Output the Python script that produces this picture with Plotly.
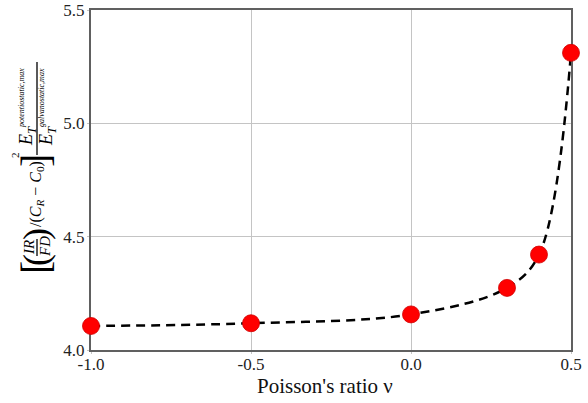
import plotly.graph_objects as go

# Data
nu = [-1.0, -0.5, 0.0, 0.3, 0.4, 0.5]
ratio = [4.106, 4.118, 4.157, 4.274, 4.421, 5.311]
x_ticks = [-1.0, -0.5, 0.0, 0.5]
x_ticklabels = ["-1.0", "-0.5", "0.0", "0.5"]
y_ticks = [4.0, 4.5, 5.0, 5.5]
y_ticklabels = ["4.0", "4.5", "5.0", "5.5"]
x_title = "Poisson's ratio ν"

W, H = 588, 403
ML, MR, MT, MB = 91, 17, 10, 53
PW, PH = W - ML - MR, H - MT - MB
FONT = "Liberation Serif, Times New Roman, serif"

fig = go.Figure()
fig.add_trace(go.Scatter(x=nu, y=ratio, mode="lines", line_shape="spline",
                         line=dict(color="black", width=2.5, dash="9px,6px"),
                         hoverinfo="skip", cliponaxis=False))
fig.add_trace(go.Scatter(x=nu, y=ratio, mode="markers", cliponaxis=False,
                         marker=dict(color="#ff0000", size=17,
                                     line=dict(color="#d00000", width=0.8))))

def px(X):
    return (X - ML) / PW

def py(Y):
    return (H - MB - Y) / PH

anns = []
def lab(X, Y, text, size, angle=-90, color="black"):
    anns.append(dict(x=px(X), y=py(Y), xref="paper", yref="paper", text=text,
                     showarrow=False, textangle=angle, xanchor="center",
                     yanchor="middle", font=dict(family=FONT, size=size, color=color)))

shapes = []
def bar(X, Y0, Y1):
    shapes.append(dict(type="line", xref="paper", yref="paper",
                       x0=px(X), x1=px(X), y0=py(Y0), y1=py(Y1),
                       line=dict(color="black", width=1.3)))

# y-axis label built from pieces:  [ (IR/FD) /(C_R - C_0) ]^2  E_T^pot,max / E_T^galv,max
lab(35, 268, "[", 40)
lab(36, 260, "(", 36)
lab(29, 247, "<i>IR</i>", 15)
lab(45, 247, "<i>FD</i>", 15)
bar(37, 239, 256)
lab(36, 234, ")", 36)
lab(36, 194, "/(<i>C</i><sub><i>R</i></sub> − <i>C</i><sub>0</sub>)", 16)
lab(35, 161, "]", 40)
lab(15, 155, "2", 11)
lab(27, 107, "<i>E</i><sub><i>T</i></sub><sup><i><span style='font-size:8px'>potentiostatic,max</span></i></sup>", 18)
lab(47, 107, "<i>E</i><sub><i>T</i></sub><sup><i><span style='font-size:8px'>galvanostatic,max</span></i></sup>", 18)
bar(37, 62, 155)

# x-axis title
lab(325, 386, x_title, 21, angle=0, color="#111")

fig.update_layout(
    width=W, height=H,
    margin=dict(l=ML, r=MR, t=MT, b=MB, autoexpand=False),
    paper_bgcolor="white", plot_bgcolor="white",
    showlegend=False,
    font=dict(family=FONT, size=17, color="#222"),
    annotations=anns, shapes=shapes,
    xaxis=dict(range=[-1.0, 0.5], tickvals=x_ticks, ticktext=x_ticklabels,
               showline=True, mirror=True, linecolor="#606060", linewidth=2,
               showgrid=True, gridcolor="#c4c4c4", gridwidth=1, zeroline=False,
               ticks="outside", ticklen=2, tickcolor="#c4c4c4",
               ticklabelstandoff=-4,
               layer="below traces", automargin=False),
    yaxis=dict(range=[4.0, 5.5], tickvals=y_ticks, ticktext=y_ticklabels,
               showline=True, mirror=True, linecolor="#606060", linewidth=2,
               showgrid=True, gridcolor="#c4c4c4", gridwidth=1, zeroline=False,
               ticks="outside", ticklen=2, tickcolor="#c4c4c4",
               ticklabelstandoff=-1,
               layer="below traces", automargin=False),
)

fig.write_html("out.html", config={"displayModeBar": False},
               post_script="document.body.style.margin='0';")
